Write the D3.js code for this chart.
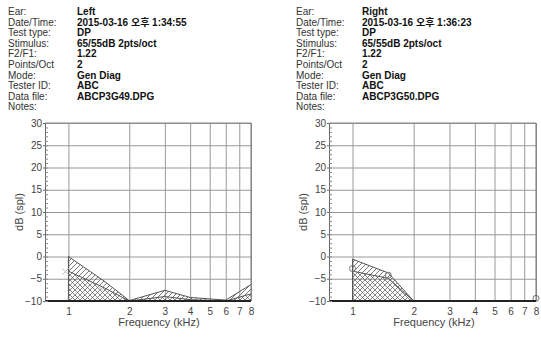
<!DOCTYPE html>
<html>
<head>
<meta charset="utf-8">
<script src="https://cdn.jsdelivr.net/npm/d3@7"></script>
<style>
  body { margin: 0; background: #fff; }
  svg { display: block; font-family: "Liberation Sans", Arial, "Noto Sans CJK KR", sans-serif; }
  .info-label { font-size: 10px; fill: #333; }
  .info-value { font-size: 10px; fill: #111; font-weight: bold; }
  .tick text { font-size: 10px; fill: #444; }
  .axis-title { font-size: 11px; fill: #444; }
</style>
</head>
<body>
<svg width="541" height="337"></svg>
<script>
// header fields
const infoLabels = ['Ear:', 'Date/Time:', 'Test type:', 'Stimulus:', 'F2/F1:', 'Points/Oct', 'Mode:', 'Tester ID:', 'Data file:', 'Notes:'];
const leftInfo = ['Left', '2015-03-16 오후 1:34:55', 'DP', '65/55dB  2pts/oct', '1.22', '2', 'Gen Diag', 'ABC', 'ABCP3G49.DPG', ''];
const rightInfo = ['Right', '2015-03-16 오후 1:36:23', 'DP', '65/55dB  2pts/oct', '1.22', '2', 'Gen Diag', 'ABC', 'ABCP3G50.DPG', ''];

// frequencies (kHz) and levels (dB spl)
const freqs = [1, 1.5, 2, 3, 4, 6, 8];
const freqTicks = [1, 2, 3, 4, 5, 6, 7, 8];
const dbTicks = [-10, -5, 0, 5, 10, 15, 20, 25, 30];

const leftDp = [-3.4, -7.2, -11, -11, -11, -11, -11];
const leftNoise = [-3.3, -7.0, -10, -9.0, -9.7, -10, -8.4];
const leftNoiseSd = [0, -5.5, -9.9, -7.6, -9.2, -9.8, -6.3];

const rightDp = [-2.7, -4.2, -11, -11, -11, -11, -9.4];
const rightNoise = [-3.3, -4.9, -10, -10, -10, -10, -10];
const rightNoiseSd = [-0.6, -3.7, -10, -10, -10, -10, -10];

const svg = d3.select('svg');

// hatch patterns
const defs = svg.append('defs');
const diag = defs.append('pattern')
  .attr('id', 'diag').attr('patternUnits', 'userSpaceOnUse')
  .attr('width', 5).attr('height', 5);
diag.append('path').attr('d', 'M0,5 L5,0 M-1,1 L1,-1 M4,6 L6,4')
  .attr('stroke', '#555').attr('stroke-width', 0.8);
const cross = defs.append('pattern')
  .attr('id', 'cross').attr('patternUnits', 'userSpaceOnUse')
  .attr('width', 5).attr('height', 5);
cross.append('path').attr('d', 'M0,5 L5,0 M-1,1 L1,-1 M4,6 L6,4 M0,0 L5,5 M-1,4 L1,6 M4,-1 L6,1')
  .attr('stroke', '#555').attr('stroke-width', 0.7);

function drawInfo(values, labelX, valueX) {
  const g = svg.append('g');
  infoLabels.forEach((lab, i) => {
    const y = 15 + i * 10.6;
    g.append('text').attr('class', 'info-label').attr('x', labelX).attr('y', y).text(lab);
    g.append('text').attr('class', 'info-value').attr('x', valueX).attr('y', y).text(values[i]);
  });
}

function drawChart(opt) {
  const x = d3.scaleLog().domain([0.766, 8]).range([opt.left, opt.right]);
  const y = d3.scaleLinear().domain([-10, 30]).range([301, 123]);
  const g = svg.append('g');
  const w = opt.right - opt.left;

  // grid
  g.append('g')
    .attr('transform', `translate(${opt.left},0)`)
    .call(d3.axisLeft(y).tickValues(dbTicks).tickSize(-w).tickFormat(''))
    .call((s) => s.select('.domain').remove())
    .selectAll('line').attr('stroke', '#999');
  g.append('g')
    .attr('transform', 'translate(0,301)')
    .call(d3.axisBottom(x).tickValues(freqTicks).tickSize(-178).tickFormat(''))
    .call((s) => s.select('.domain').remove())
    .selectAll('line').attr('stroke', '#999');

  // hatched regions
  const pts = freqs.map((f, i) => ({ f, noise: opt.noise[i], sd: opt.sd[i], dp: opt.dp[i] }));
  g.append('path').datum(pts)
    .attr('fill', 'url(#cross)')
    .attr('d', d3.area().x((d) => x(d.f)).y0(y(-10)).y1((d) => y(d.noise)));
  g.append('path').datum(pts)
    .attr('fill', 'url(#diag)')
    .attr('d', d3.area().x((d) => x(d.f)).y0((d) => y(d.noise)).y1((d) => y(d.sd)));
  g.append('path').datum(pts)
    .attr('fill', 'none').attr('stroke', '#555').attr('stroke-width', 1)
    .attr('d', d3.line().x((d) => x(d.f)).y((d) => y(d.sd)));
  g.append('path').datum(pts)
    .attr('fill', 'none').attr('stroke', '#555').attr('stroke-width', 1)
    .attr('d', d3.line().x((d) => x(d.f)).y((d) => y(d.noise)));
  g.append('line')
    .attr('x1', x(1)).attr('x2', x(1)).attr('y1', y(-10)).attr('y2', y(opt.sd[0]))
    .attr('stroke', '#555');

  // dp markers
  const vis = pts.filter((d) => d.dp >= -10);
  if (opt.marker === 'x') {
    g.selectAll('.mk').data(vis).enter().append('path')
      .attr('d', (d) => {
        const cx = x(d.f) - 3, cy = y(d.dp);
        return `M${cx - 3},${cy - 3}L${cx + 3},${cy + 3}M${cx - 3},${cy + 3}L${cx + 3},${cy - 3}`;
      })
      .attr('stroke', '#bbb').attr('stroke-width', 1);
  } else {
    g.selectAll('.mk').data(vis).enter().append('circle')
      .attr('cx', (d) => x(d.f)).attr('cy', (d) => y(d.dp)).attr('r', 3)
      .attr('fill', 'none').attr('stroke', '#777').attr('stroke-width', 1);
  }

  // frame
  g.append('line').attr('x1', opt.left).attr('x2', opt.right).attr('y1', 123).attr('y2', 123).attr('stroke', '#888');
  g.append('line').attr('x1', opt.right).attr('x2', opt.right).attr('y1', 123).attr('y2', 301).attr('stroke', '#777');
  g.append('line').attr('x1', opt.left).attr('x2', opt.right).attr('y1', 301).attr('y2', 301).attr('stroke', '#222').attr('stroke-width', 2);

  // y axis
  const yAxis = g.append('g')
    .attr('transform', `translate(${opt.left},0)`)
    .call(d3.axisLeft(y).tickValues(dbTicks).tickSize(2).tickPadding(1));
  yAxis.select('.domain').attr('stroke', '#666');
  yAxis.selectAll('.tick line').attr('stroke', '#666');
  g.append('g')
    .attr('transform', `translate(${opt.left},0)`)
    .call(d3.axisRight(y).tickValues(d3.range(-10, 31, 1)).tickSize(3).tickFormat(''))
    .call((s) => s.select('.domain').remove())
    .selectAll('line').attr('stroke', '#888');

  // x axis
  const xAxis = g.append('g')
    .attr('transform', 'translate(0,301)')
    .call(d3.axisBottom(x).tickValues(freqTicks).tickSize(0).tickPadding(7).tickFormat(d3.format('d')));
  xAxis.select('.domain').remove();

  g.append('text').attr('class', 'axis-title')
    .attr('transform', `translate(${opt.left - 22},212) rotate(-90)`)
    .attr('text-anchor', 'middle').text('dB (spl)');
  g.append('text').attr('class', 'axis-title')
    .attr('x', opt.titleX).attr('y', 326)
    .attr('text-anchor', 'middle').text('Frequency (kHz)');
}

drawInfo(leftInfo, 8, 77);
drawInfo(rightInfo, 296, 362);

drawChart({ left: 45, right: 251, dp: leftDp, noise: leftNoise, sd: leftNoiseSd, marker: 'x', titleX: 159 });
drawChart({ left: 329, right: 536, dp: rightDp, noise: rightNoise, sd: rightNoiseSd, marker: 'o', titleX: 434 });
</script>
</body>
</html>
